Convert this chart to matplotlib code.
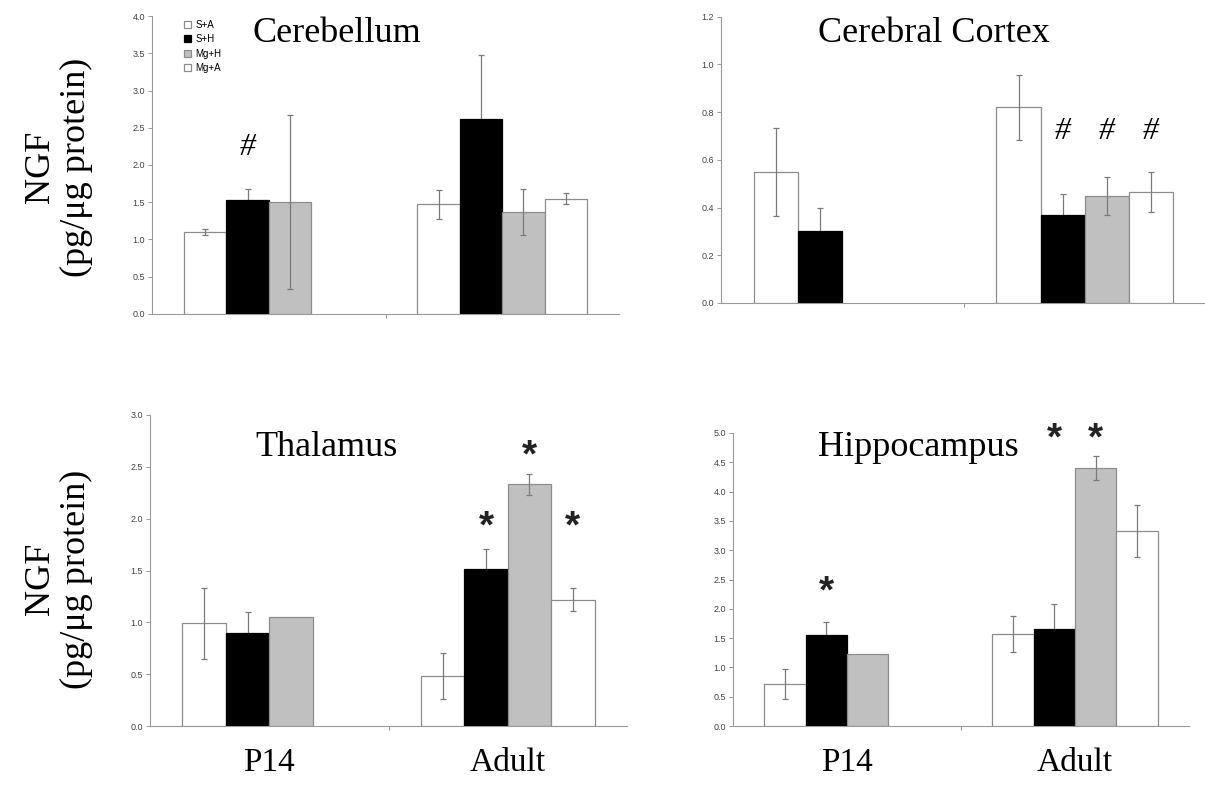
import numpy as np
import matplotlib
matplotlib.use("Agg")
import matplotlib.pyplot as plt
from matplotlib.transforms import blended_transform_factory

# ---------------- data ----------------
categories = ["P14", "Adult"]
groups = ["S+A", "S+H", "Mg+H", "Mg+A"]

# Cerebellum
cereb_mean = {"S+A": [1.10, 1.47], "S+H": [1.53, 2.62], "Mg+H": [1.50, 1.37], "Mg+A": [np.nan, 1.55]}
cereb_err = {"S+A": [0.04, 0.20], "S+H": [0.15, 0.86], "Mg+H": [1.17, 0.31], "Mg+A": [np.nan, 0.08]}
# Cerebral cortex
cortex_mean = {"S+A": [0.55, 0.82], "S+H": [0.30, 0.37], "Mg+H": [np.nan, 0.45], "Mg+A": [np.nan, 0.465]}
cortex_err = {"S+A": [0.185, 0.135], "S+H": [0.10, 0.085], "Mg+H": [np.nan, 0.08], "Mg+A": [np.nan, 0.085]}
# Thalamus
thal_mean = {"S+A": [0.99, 0.48], "S+H": [0.90, 1.51], "Mg+H": [1.05, 2.33], "Mg+A": [np.nan, 1.22]}
thal_err = {"S+A": [0.345, 0.22], "S+H": [0.20, 0.20], "Mg+H": [0.0, 0.10], "Mg+A": [np.nan, 0.11]}
# Hippocampus
hipp_mean = {"S+A": [0.72, 1.57], "S+H": [1.56, 1.65], "Mg+H": [1.23, 4.40], "Mg+A": [np.nan, 3.33]}
hipp_err = {"S+A": [0.255, 0.31], "S+H": [0.21, 0.43], "Mg+H": [0.0, 0.20], "Mg+A": [np.nan, 0.44]}

# significance marks: (group, category index, y, symbol)
cereb_marks = [("S+H", 0, 2.23, "#")]
cortex_marks = [("S+H", 1, 0.717, "#"), ("Mg+H", 1, 0.717, "#"), ("Mg+A", 1, 0.717, "#")]
thal_marks = [("S+H", 1, 1.99, "*"), ("Mg+H", 1, 2.68, "*"), ("Mg+A", 1, 1.99, "*")]
hipp_marks = [("S+H", 0, 2.41, "*"), ("S+H", 1, 5.02, "*"), ("Mg+H", 1, 5.02, "*")]

# ---------------- style ----------------
face = {"S+A": "white", "S+H": "black", "Mg+H": "#c0c0c0", "Mg+A": "white"}
edge = {"S+A": "#8c8c8c", "S+H": "black", "Mg+H": "#8c8c8c", "Mg+A": "#8c8c8c"}
SERIF = ["Liberation Serif", "DejaVu Serif"]
SANS = ["Liberation Sans", "DejaVu Sans"]
GRAY = "#9a9a9a"

fig = plt.figure(figsize=(12.05, 7.97), dpi=100)
W, H = 1205, 797

def px_axes(l, t, r, b):
    return fig.add_axes([l / W, 1 - b / H, (r - l) / W, (b - t) / H])

bw = 0.182
offs = {g: (i - 1.5) * bw for i, g in enumerate(groups)}

def draw(ax, means, errs, ymax, ystep, title, title_xy, marks, legend=False):
    x = np.arange(len(categories))
    handles = []
    for g in groups:
        m = np.array(means[g], dtype=float)
        e = np.array(errs[g], dtype=float)
        h = ax.bar(x + offs[g], m, bw, color=face[g], edgecolor=edge[g], linewidth=0.9, zorder=3, label=g)
        handles.append(h)
        ok = ~np.isnan(m) & (np.nan_to_num(e) > 0)
        ezo = 2 if g == "S+H" else 4
        ax.errorbar((x + offs[g])[ok], m[ok], yerr=e[ok], fmt="none", ecolor="#7a7a7a",
                    elinewidth=0.9, capsize=2.5, capthick=0.9, zorder=ezo)
    ax.set_xlim(-0.5, 1.5)
    ax.set_ylim(0, ymax)
    ticks = np.arange(0, ymax + 1e-9, ystep)
    ax.set_yticks(ticks)
    ax.set_yticklabels([f"{v:.1f}" for v in ticks], fontsize=6.5, family=SANS, color="#444444")
    ax.set_xticks([0.5])
    ax.set_xticklabels([""])
    ax.tick_params(axis="y", length=3, width=0.7, color=GRAY, pad=2)
    ax.tick_params(axis="x", length=3, width=0.7, color=GRAY, direction="out")
    for s in ["top", "right"]:
        ax.spines[s].set_visible(False)
    for s in ["left", "bottom"]:
        ax.spines[s].set_color(GRAY)
        ax.spines[s].set_linewidth(0.8)
    fig.text(title_xy[0] / W, 1 - title_xy[1] / H, title, ha="center", va="center",
             fontsize=26, family=SERIF)
    for g, ci, y, sym in marks:
        if sym == "#":
            ax.text(ci + offs[g], y, sym, ha="center", va="center", fontsize=23,
                    family=SERIF, style="italic", clip_on=False, zorder=6)
        else:
            ax.text(ci + offs[g], y - 0.026 * ymax, sym, ha="center", va="center", fontsize=28,
                    family=SANS, weight="bold", color="#222222", clip_on=False, zorder=6)
    if legend:
        ax.legend(handles=handles, labels=groups, loc="upper left", bbox_to_anchor=(0.06, 1.0),
                  frameon=False, handlelength=0.75, handleheight=0.75,
                  handletextpad=0.4, labelspacing=0.45, borderaxespad=0.0,
                  prop={"family": SANS, "size": 7})
    return ax

ax1 = px_axes(152, 16, 619, 314)
draw(ax1, cereb_mean, cereb_err, 4.0, 0.5, "Cerebellum", (337, 33), cereb_marks, legend=True)
ax2 = px_axes(721, 16.7, 1206, 303)
draw(ax2, cortex_mean, cortex_err, 1.2, 0.2, "Cerebral Cortex", (934, 33), cortex_marks)
ax3 = px_axes(150, 415, 627, 726)
draw(ax3, thal_mean, thal_err, 3.0, 0.5, "Thalamus", (326, 448), thal_marks)
ax4 = px_axes(733, 433, 1189, 726)
draw(ax4, hipp_mean, hipp_err, 5.0, 0.5, "Hippocampus", (918, 447), hipp_marks)

# category labels under the bottom panels
for ax in (ax3, ax4):
    tr = blended_transform_factory(ax.transData, fig.transFigure)
    for i, c in enumerate(categories):
        ax.text(i, 1 - 763 / H, c, transform=tr, ha="center", va="center", fontsize=24, family=SERIF)

# y labels
for yc in (167, 579):
    fig.text(40 / W, 1 - yc / H, "NGF", rotation=90, ha="center", va="center", fontsize=26, family=SERIF)
    fig.text(76 / W, 1 - yc / H, "(pg/\u03bcg protein)", rotation=90, ha="center", va="center",
             fontsize=26, family=SERIF)

fig.savefig("out.png", dpi=100)
